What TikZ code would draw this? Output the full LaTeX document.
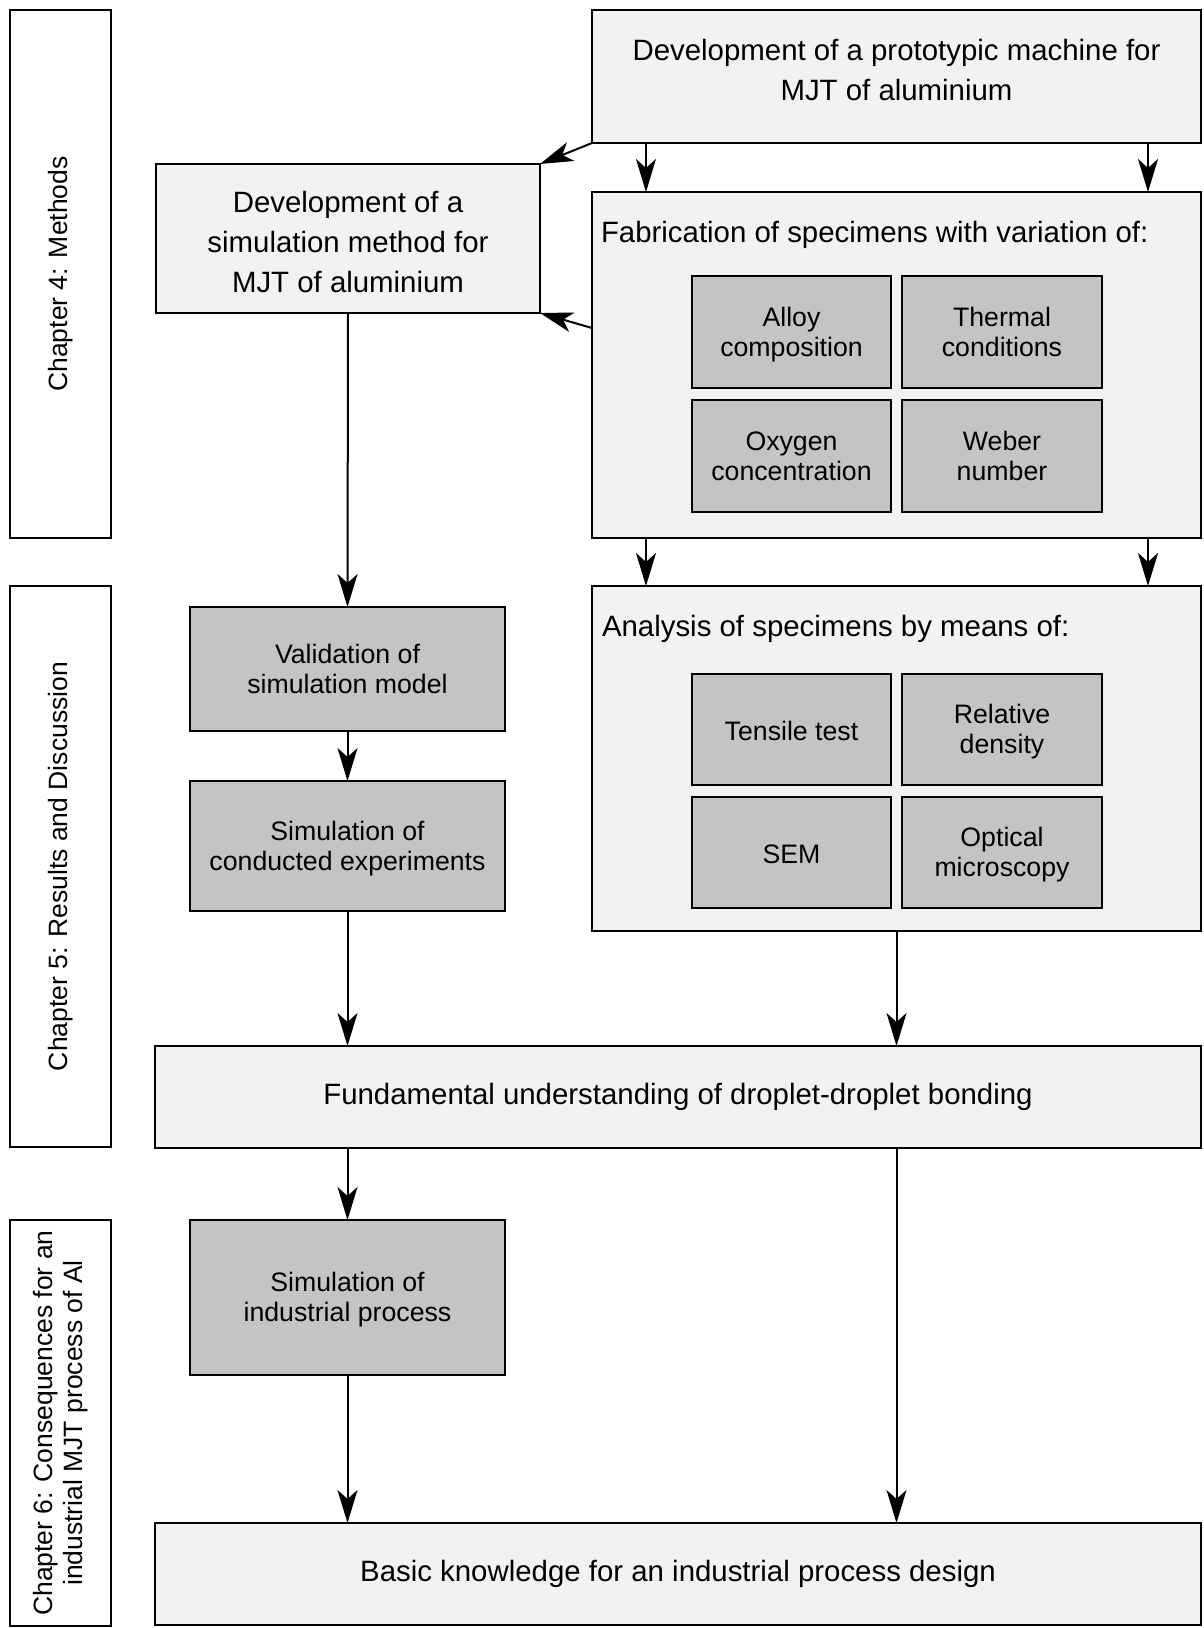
\documentclass[tikz,border=0pt]{standalone}
\usepackage{fontspec}
\setmainfont{Liberation Sans}
\usepackage{tikz}
\usetikzlibrary{arrows.meta}
\definecolor{boxlight}{HTML}{F2F2F2}
\definecolor{boxdark}{HTML}{C4C4C5}

\begin{document}
\begin{tikzpicture}[x=1pt,y=-1pt,
		every node/.style={inner sep=0pt,outer sep=0pt,line width=2pt},
		pad/.style 2 args={execute at begin node={\rule{0pt}{#1}},execute at end node={\rule[-#2]{0pt}{#2}}},
		light/.style={draw,fill=boxlight,align=center,font=\fontsize{29.4}{40}\selectfont},
		darkone/.style={draw,fill=boxdark,align=center,pad={28pt}{6pt},font=\fontsize{26.7}{30}\selectfont},
		dark/.style={draw,fill=boxdark,align=center,pad={54pt}{6pt},font=\fontsize{26.7}{30}\selectfont},
		chap/.style={draw,fill=white,rotate=90,minimum height=101pt,align=center,font=\fontsize{26.5}{30}\selectfont},
		arr/.style={line width=2pt,-{Stealth[length=33pt,width=20pt,inset=9pt]}}]
		\useasboundingbox (0,0) rectangle (1203,1628);
		% chapters
		\node[chap,minimum width=528pt] (chapfour) at (60.5,274) {Chapter 4: Methods};
		\node[chap,minimum width=561pt] (chapfive) at (60.5,866.5) {Chapter 5: Results and Discussion};
		\node[chap,minimum width=406pt] (chapsix) at (60.5,1423) {Chapter 6: Consequences for an\\industrial MJT process of Al};
		% methods
		\node[light,minimum width=609pt,minimum height=133pt,pad={28pt}{14pt}] (machine) at (896.5,76.5) {Development of a prototypic machine for\\MJT of aluminium};
		\node[light,minimum width=384pt,minimum height=149pt,pad={115pt}{7pt}] (simmethod) at (348,238.5) {Development of a\\simulation method for\\MJT of aluminium};
		\node[light,minimum width=609pt,minimum height=346pt] (fab) at (896.5,365) {};
		\node[anchor=west,font=\fontsize{29.4}{40}\selectfont] (fablabel) at (601,235) {Fabrication of specimens with variation of:};
		\node[dark,minimum width=199pt,minimum height=112pt] (alloy) at (791.5,332) {Alloy\\composition};
		\node[dark,minimum width=200pt,minimum height=112pt] (thermal) at (1002,332) {Thermal\\conditions};
		\node[dark,minimum width=199pt,minimum height=112pt] (oxygen) at (791.5,456) {Oxygen\\concentration};
		\node[dark,minimum width=200pt,minimum height=112pt] (weber) at (1002,456) {Weber\\number};
		% results
		\node[dark,minimum width=315pt,minimum height=124pt] (valid) at (347.5,669) {Validation of\\simulation model};
		\node[dark,minimum width=315pt,minimum height=130pt] (conducted) at (347.5,846) {Simulation of\\conducted experiments};
		\node[light,minimum width=609pt,minimum height=345pt] (analysis) at (896.5,758.5) {};
		\node[anchor=west,font=\fontsize{29.4}{40}\selectfont] (analysislabel) at (602,629) {Analysis of specimens by means of:};
		\node[darkone,minimum width=199pt,minimum height=111pt] (tensile) at (791.5,729.5) {Tensile test};
		\node[dark,minimum width=200pt,minimum height=111pt] (density) at (1002,729.5) {Relative\\density};
		\node[darkone,minimum width=199pt,minimum height=111pt] (sem) at (791.5,852.5) {SEM};
		\node[dark,minimum width=200pt,minimum height=111pt] (optical) at (1002,852.5) {Optical\\microscopy};
		\node[light,minimum width=1046pt,minimum height=102pt] (fundam) at (678,1097) {Fundamental understanding of droplet-droplet bonding};
		% consequences
		\node[dark,minimum width=315pt,minimum height=155pt] (industrial) at (347.5,1297.5) {Simulation of\\industrial process};
		\node[light,minimum width=1046pt,minimum height=102pt] (basic) at (678,1574) {Basic knowledge for an industrial process design};
		% connectors
		\draw[arr] (machine.south west) -- (simmethod.north east);
		\draw[arr] ([xshift=54pt]machine.south west) -- ([xshift=54pt]fab.north west);
		\draw[arr] ([xshift=-53pt]machine.south east) -- ([xshift=-53pt]fab.north east);
		\draw[arr] ([yshift=37pt]fab.west) -- (simmethod.south east);
		\draw[arr] (simmethod.south) -- (valid.north);
		\draw[arr] (valid.south) -- (conducted.north);
		\draw[arr] ([xshift=54pt]fab.south west) -- ([xshift=54pt]analysis.north west);
		\draw[arr] ([xshift=-53pt]fab.south east) -- ([xshift=-53pt]analysis.north east);
		\draw[arr] (conducted.south) -- (conducted.south |- fundam.north);
		\draw[arr] (analysis.south) -- (analysis.south |- fundam.north);
		\draw[arr] (industrial.north |- fundam.south) -- (industrial.north);
		\draw[arr] (industrial.south) -- (industrial.south |- basic.north);
		\draw[arr] (analysis.south |- fundam.south) -- (analysis.south |- basic.north);
\end{tikzpicture}
\end{document}
